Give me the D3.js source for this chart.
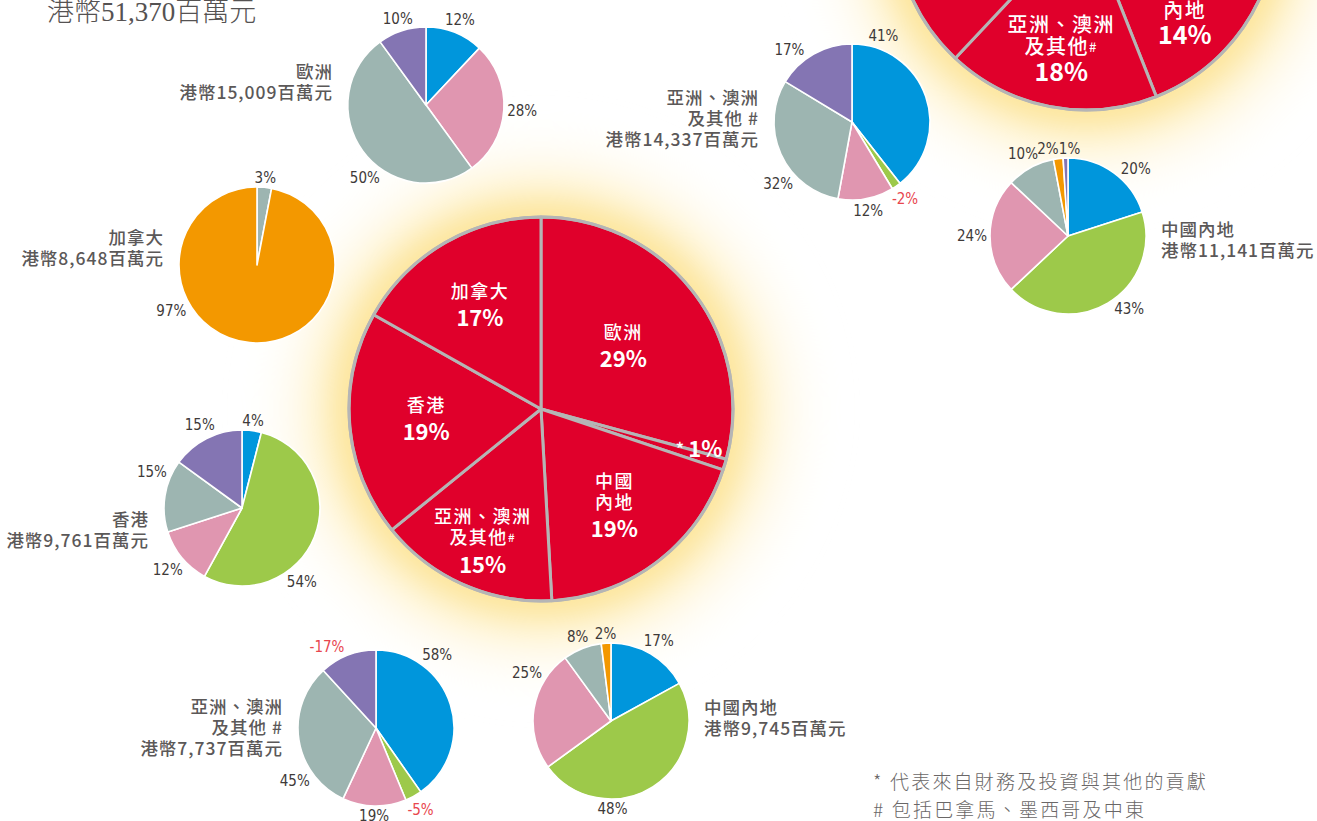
<!DOCTYPE html>
<html><head><meta charset="utf-8">
<script src="https://cdn.jsdelivr.net/npm/d3@7"></script>
<style>body{margin:0;background:#fff;} svg{display:block;}</style>
</head><body><svg id="chart" width="1317" height="821"></svg>
<script>
// ---------------- DATA ----------------
const segmentColors = ["#0096dc", "#9dc94a", "#e096b0", "#9db5b1", "#f39800", "#8475b3"];

// central pie (港幣百萬元)
const mainNames = [["歐洲"], ["*"], ["中國", "內地"], ["亞洲、澳洲", "及其他#"], ["香港"], ["加拿大"]];
const mainAmounts = [15009, 470, 9745, 7737, 9761, 8648];
const mainPercentLabels = ["29%", "1%", "19%", "15%", "19%", "17%"];
const mainTotalLabel = "港幣51,370百萬元";

// partially visible pie, top right (percentages; hidden slices estimated)
const otherNames = [["歐洲"], ["*"], ["中國", "內地"], ["亞洲、澳洲", "及其他#"], ["香港"], ["加拿大"]];
const otherShares = [29, 1, 14, 18, 20, 18];
const otherPercentLabels = ["29%", "1%", "14%", "18%", "20%", "18%"];

// small pies: shares by segment (blue, green, pink, grey, orange, purple)
const sharesEurope = [12, 0, 28, 50, 0, 10];
const sharesCanada = [0, 0, 0, 3, 97, 0];
const sharesHongKong = [4, 54, 12, 15, 0, 15];
const sharesAsia = [58, -5, 19, 45, 0, -17];
const sharesChina = [17, 48, 25, 8, 2, 0];
const sharesAsiaOther = [41, -2, 12, 32, 0, 17];
const sharesChinaOther = [20, 43, 24, 10, 2, 1];

const smallNames = [["歐洲"], ["加拿大"], ["香港"], ["亞洲、澳洲", "及其他 #"], ["中國內地"], ["亞洲、澳洲", "及其他 #"], ["中國內地"]];
const smallAmounts = ["港幣15,009百萬元", "港幣8,648百萬元", "港幣9,761百萬元", "港幣7,737百萬元", "港幣9,745百萬元", "港幣14,337百萬元", "港幣11,141百萬元"];
const smallShares = [sharesEurope, sharesCanada, sharesHongKong, sharesAsia, sharesChina, sharesAsiaOther, sharesChinaOther];

const footnotes = ["* 代表來自財務及投資與其他的貢獻", "# 包括巴拿馬、墨西哥及中東"];

// ---------------- LAYOUT ----------------
const W = 1317, H = 821;
const mainLayout = {cx: 541, cy: 409, r: 192, labelR: [0.54, 0.86, 0.63, 0.75, 0.6, 0.63]};
const otherLayout = {cx: 1086, cy: -81, r: 191, labelR: [0.6, 0.86, 0.71, 0.69, 0.62, 0.62]};
const smallR = 78;
const smallLayout = [
  {cx: 426, cy: 105, side: "left", nameDy: -33, labelAngles: {3: 220}},
  {cx: 257, cy: 265, side: "left", nameDy: -27, labelAngles: {4: 242}},
  {cx: 242, cy: 508, side: "left", nameDy: 12, labelAngles: {1: 141, 3: 292}},
  {cx: 376, cy: 728, side: "left", nameDy: -21, labelAngles: {0: 40, 3: 237, 5: 329}},
  {cx: 611, cy: 721, side: "right", nameDy: -13, labelAngles: {1: 179, 2: 300}},
  {cx: 852, cy: 122, side: "left", nameDy: -24, labelAngles: {0: 20, 3: 230, 5: 319}},
  {cx: 1068, cy: 236, side: "right", nameDy: -6, labelAngles: {0: 45, 1: 140, 4: 347, 5: 1}}
];

const svg = d3.select("#chart");
const defs = svg.append("defs");

// glow gradient
const glow = defs.append("radialGradient").attr("id", "glow");
[[0, "#fcd867", 0.65], [0.62, "#fcd867", 0.65], [0.66, "#fbd86c", 0.58], [0.72, "#fde390", 0.42],
 [0.81, "#fff0c2", 0.26], [0.91, "#fff8e6", 0.12], [1, "#ffffff", 0]].forEach(s => {
  glow.append("stop").attr("offset", s[0]).attr("stop-color", s[1]).attr("stop-opacity", s[2]);
});
const blur = defs.append("filter").attr("id", "soft").attr("x", "-20%").attr("y", "-20%").attr("width", "140%").attr("height", "140%");
blur.append("feGaussianBlur").attr("stdDeviation", 10);

svg.append("rect").attr("width", W).attr("height", H).attr("fill", "#fff");

[mainLayout, otherLayout].forEach(L => {
  svg.append("circle").attr("cx", L.cx).attr("cy", L.cy).attr("r", L.r * 1.6)
    .attr("fill", "url(#glow)").attr("filter", "url(#soft)");
});

// ---------------- BIG PIES ----------------
function bigPie(L, values, names, pcts, fs) {
  const g = svg.append("g").attr("transform", `translate(${L.cx},${L.cy})`);
  const arcs = d3.pie().sort(null).value(d => d)(values);
  const arc = d3.arc().innerRadius(0).outerRadius(L.r);
  g.selectAll("path.slice").data(arcs).join("path").attr("class", "slice")
    .attr("d", arc).attr("fill", "#e0002b").attr("stroke", "#b5b5b5")
    .attr("stroke-width", 3).attr("stroke-linejoin", "round");
  g.append("circle").attr("r", L.r).attr("fill", "none").attr("stroke", "#b5b5b5").attr("stroke-width", 3);

  arcs.forEach((a, i) => {
    const la = d3.arc().innerRadius(L.r * L.labelR[i]).outerRadius(L.r * L.labelR[i]);
    const [x, y] = la.centroid(a);
    const lines = names[i];
    const blockH = (lines.length - 1) * fs.gap + fs.pgap;
    if (L.cy + y + blockH / 2 < 0) return; // label entirely outside the picture
    const t = g.append("text").attr("text-anchor", "middle").attr("fill", "#fff")
      .attr("font-family", "'Noto Sans CJK TC','Noto Sans',sans-serif");
    if (lines[0] === "*") {
      t.attr("x", x).attr("y", y).attr("dy", "0.35em");
      t.append("tspan").text("* ").attr("font-size", fs.name).attr("font-weight", 500).attr("dy", "-0.05em");
      t.append("tspan").text(pcts[i]).attr("font-size", fs.pct).attr("font-weight", 700).attr("dy", "0.05em");
      return;
    }
    const y0 = y - blockH / 2;
    lines.forEach((ln, k) => {
      const tl = g.append("text").attr("text-anchor", "middle").attr("fill", "#fff")
        .attr("font-family", "'Noto Sans CJK TC','Noto Sans',sans-serif")
        .attr("font-size", fs.name).attr("font-weight", 500).attr("letter-spacing", 1.5)
        .attr("x", x).attr("y", y0 + k * fs.gap).attr("dy", "0.36em");
      if (ln.endsWith("#")) {
        tl.append("tspan").text(ln.slice(0, -1));
        tl.append("tspan").text("#").attr("font-size", fs.name * 0.65).attr("dy", "-0.2em");
      } else tl.text(ln);
    });
    t.attr("x", x).attr("y", y0 + (lines.length - 1) * fs.gap + fs.pgap).attr("dy", "0.36em")
      .attr("font-size", fs.pct).attr("font-weight", 700).text(pcts[i]);
  });
}
bigPie(mainLayout, mainAmounts, mainNames, mainPercentLabels, {name: 18, pct: 22, gap: 21, pgap: 27});
bigPie(otherLayout, otherShares, otherNames, otherPercentLabels, {name: 20, pct: 25, gap: 22, pgap: 25});

// ---------------- SMALL PIES ----------------
smallShares.forEach((shares, p) => {
  const L = smallLayout[p];
  const g = svg.append("g").attr("transform", `translate(${L.cx},${L.cy})`);
  const arcs = d3.pie().sort(null).value(d => Math.abs(d))(shares);
  const arc = d3.arc().innerRadius(0).outerRadius(smallR);
  g.selectAll("path").data(arcs.filter(a => a.data !== 0)).join("path")
    .attr("d", arc).attr("fill", d => segmentColors[d.index])
    .attr("stroke", "#fff").attr("stroke-width", 1.6).attr("stroke-linejoin", "round");

  arcs.forEach((a, i) => {
    if (a.data === 0) return;
    const ang = (L.labelAngles[i] !== undefined) ? L.labelAngles[i] * Math.PI / 180 : (a.startAngle + a.endAngle) / 2;
    const t = g.append("text").attr("text-anchor", "middle").attr("dy", "0.36em")
      .attr("font-family", "'Liberation Sans Narrow','DejaVu Sans Condensed',sans-serif")
      .attr("font-size", 15).attr("fill", a.data < 0 ? "#e8464e" : "#3e3a39")
      .text(a.data + "%");
    const hw = t.node().getComputedTextLength() / 2;
    const d = smallR + 3 + hw * Math.abs(Math.sin(ang)) + 6 * Math.abs(Math.cos(ang));
    t.attr("x", d * Math.sin(ang)).attr("y", -d * Math.cos(ang));
  });

  const lines = smallNames[p].concat([smallAmounts[p]]);
  const left = L.side === "left";
  lines.forEach((ln, k) => {
    g.append("text").attr("x", left ? -93 : 93).attr("y", L.nameDy + k * 20.7).attr("dy", "0.36em")
      .attr("text-anchor", left ? "end" : "start")
      .attr("font-family", "'Noto Sans CJK TC','Noto Sans',sans-serif")
      .attr("font-size", 17.5).attr("font-weight", 500).attr("fill", "#5b5858")
      .attr("letter-spacing", 1).text(ln);
  });
});

// ---------------- TEXT ----------------
svg.append("text").attr("x", 47).attr("y", 21)
  .attr("font-family", "'Liberation Serif','DejaVu Serif','Noto Sans CJK TC',serif")
  .attr("font-size", 27).attr("font-weight", 300).attr("fill", "#555252").text(mainTotalLabel);

footnotes.forEach((f, i) => {
  svg.append("text").attr("x", 873).attr("y", 789 + i * 28)
    .attr("font-family", "'Noto Sans CJK TC','Noto Sans',sans-serif")
    .attr("font-size", 19).attr("font-weight", 300).attr("letter-spacing", 2.2)
    .attr("fill", "#6a6767").text(f);
});
</script>
</body></html>
